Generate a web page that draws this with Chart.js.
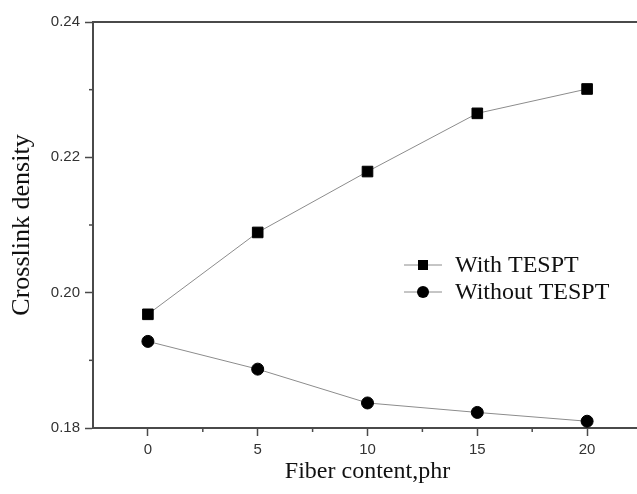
<!DOCTYPE html>
<html>
<head>
<meta charset="utf-8">
<script src="https://cdn.jsdelivr.net/npm/chart.js@4.4.0/dist/chart.umd.min.js"></script>
<style>
    html, body { margin: 0; padding: 0; background: #fff; overflow: hidden; }
    .wrap { width: 637px; height: 494px; overflow: hidden; position: relative; }
    .inner { width: 660px; height: 494px; }
</style>
</head>
<body>
<div class="wrap"><div class="inner"><canvas id="crosslinkChart" width="660" height="494"></canvas></div></div>
<script>
// Dữ liệu
const fiberContent = [0, 5, 10, 15, 20];
const withTespt = [0.1968, 0.2089, 0.2179, 0.2265, 0.2301];
const withoutTespt = [0.1928, 0.1887, 0.1837, 0.1823, 0.1810];
const seriesNames = ['With TESPT', 'Without TESPT'];
const xTicks = [0, 5, 10, 15, 20];
const xMinorTicks = [2.5, 7.5, 12.5, 17.5, 22.5];
const yTicks = [0.18, 0.20, 0.22, 0.24];
const yMinorTicks = [0.19, 0.21, 0.23];

const axisColor = '#4a4a4a';
const lineColor = '#8c8c8c';
const serif = '"Liberation Serif", "Times New Roman", serif';
const sans = '"Liberation Sans", Arial, sans-serif';

const toPoints = (ys) => fiberContent.map((x, i) => ({ x: x, y: ys[i] }));

// Vạch phụ + chú thích vẽ tay
const extrasPlugin = {
    id: 'extras',
    afterDraw(chart) {
        const ctx = chart.ctx;
        const xs = chart.scales.x;
        const ys = chart.scales.y;
        const area = chart.chartArea;
        ctx.save();
        ctx.strokeStyle = axisColor;
        ctx.lineWidth = 1.5;
        xMinorTicks.forEach(v => {
            const px = xs.getPixelForValue(v);
            ctx.beginPath();
            ctx.moveTo(px, area.bottom);
            ctx.lineTo(px, area.bottom + 4);
            ctx.stroke();
        });
        yMinorTicks.forEach(v => {
            const py = ys.getPixelForValue(v);
            ctx.beginPath();
            ctx.moveTo(area.left, py);
            ctx.lineTo(area.left - 4, py);
            ctx.stroke();
        });

        // Legend
        const lx = area.left + 311;
        const rows = [area.top + 243, area.top + 270];
        chart.data.datasets.forEach((ds, i) => {
            const y = rows[i];
            ctx.strokeStyle = lineColor;
            ctx.lineWidth = 1;
            ctx.beginPath();
            ctx.moveTo(lx, y);
            ctx.lineTo(lx + 38, y);
            ctx.stroke();
            ctx.fillStyle = '#000';
            ctx.beginPath();
            if (ds.pointStyle === 'rect') {
                ctx.rect(lx + 19 - 5, y - 5, 10, 10);
            } else {
                ctx.arc(lx + 19, y, 6, 0, Math.PI * 2);
            }
            ctx.fill();
            ctx.fillStyle = '#111';
            ctx.font = '24px ' + serif;
            ctx.textBaseline = 'middle';
            ctx.fillText(ds.label, lx + 51, y + 1);
        });
        ctx.restore();
    }
};

const ctx = document.getElementById('crosslinkChart').getContext('2d');
new Chart(ctx, {
    type: 'line',
    data: {
        datasets: [
            {
                label: seriesNames[0],
                data: toPoints(withTespt),
                borderColor: lineColor,
                borderWidth: 1,
                pointStyle: 'rect',
                pointRadius: 7.5,
                pointBackgroundColor: '#000',
                pointBorderColor: '#000',
                pointBorderWidth: 1,
                tension: 0
            },
            {
                label: seriesNames[1],
                data: toPoints(withoutTespt),
                borderColor: lineColor,
                borderWidth: 1,
                pointStyle: 'circle',
                pointRadius: 6,
                pointBackgroundColor: '#000',
                pointBorderColor: '#000',
                pointBorderWidth: 1,
                tension: 0
            }
        ]
    },
    options: {
        responsive: false,
        animation: false,
        clip: false,
        layout: { padding: { left: 0, top: 22, right: 18, bottom: 0 } },
        plugins: {
            legend: { display: false },
            tooltip: { enabled: false }
        },
        scales: {
            x: {
                type: 'linear',
                min: -2.5,
                max: 22.5,
                afterBuildTicks: (scale) => { scale.ticks = xTicks.map(v => ({ value: v })); },
                afterFit: (scale) => { scale.height = 66; },
                border: { display: true, color: axisColor, width: 2 },
                grid: { display: true, drawOnChartArea: false, drawTicks: true, tickLength: 8, tickColor: axisColor, tickWidth: 1.5 },
                ticks: {
                    padding: 5,
                    maxRotation: 0,
                    color: '#333',
                    font: { family: sans, size: 15 },
                    callback: (v) => String(v)
                },
                title: {
                    display: true,
                    text: 'Fiber content,phr',
                    color: '#111',
                    font: { family: serif, size: 24 },
                    padding: { top: 0, bottom: 8 }
                }
            },
            x2: {
                type: 'linear',
                position: 'top',
                min: -2.5,
                max: 22.5,
                afterFit: (scale) => { scale.height = 0; },
                border: { display: true, color: axisColor, width: 2 },
                grid: { display: false, drawTicks: false },
                ticks: { display: false }
            },
            y: {
                type: 'linear',
                min: 0.18,
                max: 0.24,
                afterBuildTicks: (scale) => { scale.ticks = yTicks.map(v => ({ value: v })); },
                afterFit: (scale) => { scale.width = 93; },
                border: { display: true, color: axisColor, width: 2 },
                grid: { display: true, drawOnChartArea: false, drawTicks: true, tickLength: 8, tickColor: axisColor, tickWidth: 1.5 },
                ticks: {
                    padding: 5,
                    color: '#333',
                    font: { family: sans, size: 15 },
                    callback: (v) => v.toFixed(2)
                },
                title: {
                    display: true,
                    text: 'Crosslink density',
                    color: '#111',
                    font: { family: serif, size: 26 },
                    padding: { top: 7, bottom: 0 }
                }
            }
        }
    },
    plugins: [extrasPlugin]
});
</script>
</body>
</html>
